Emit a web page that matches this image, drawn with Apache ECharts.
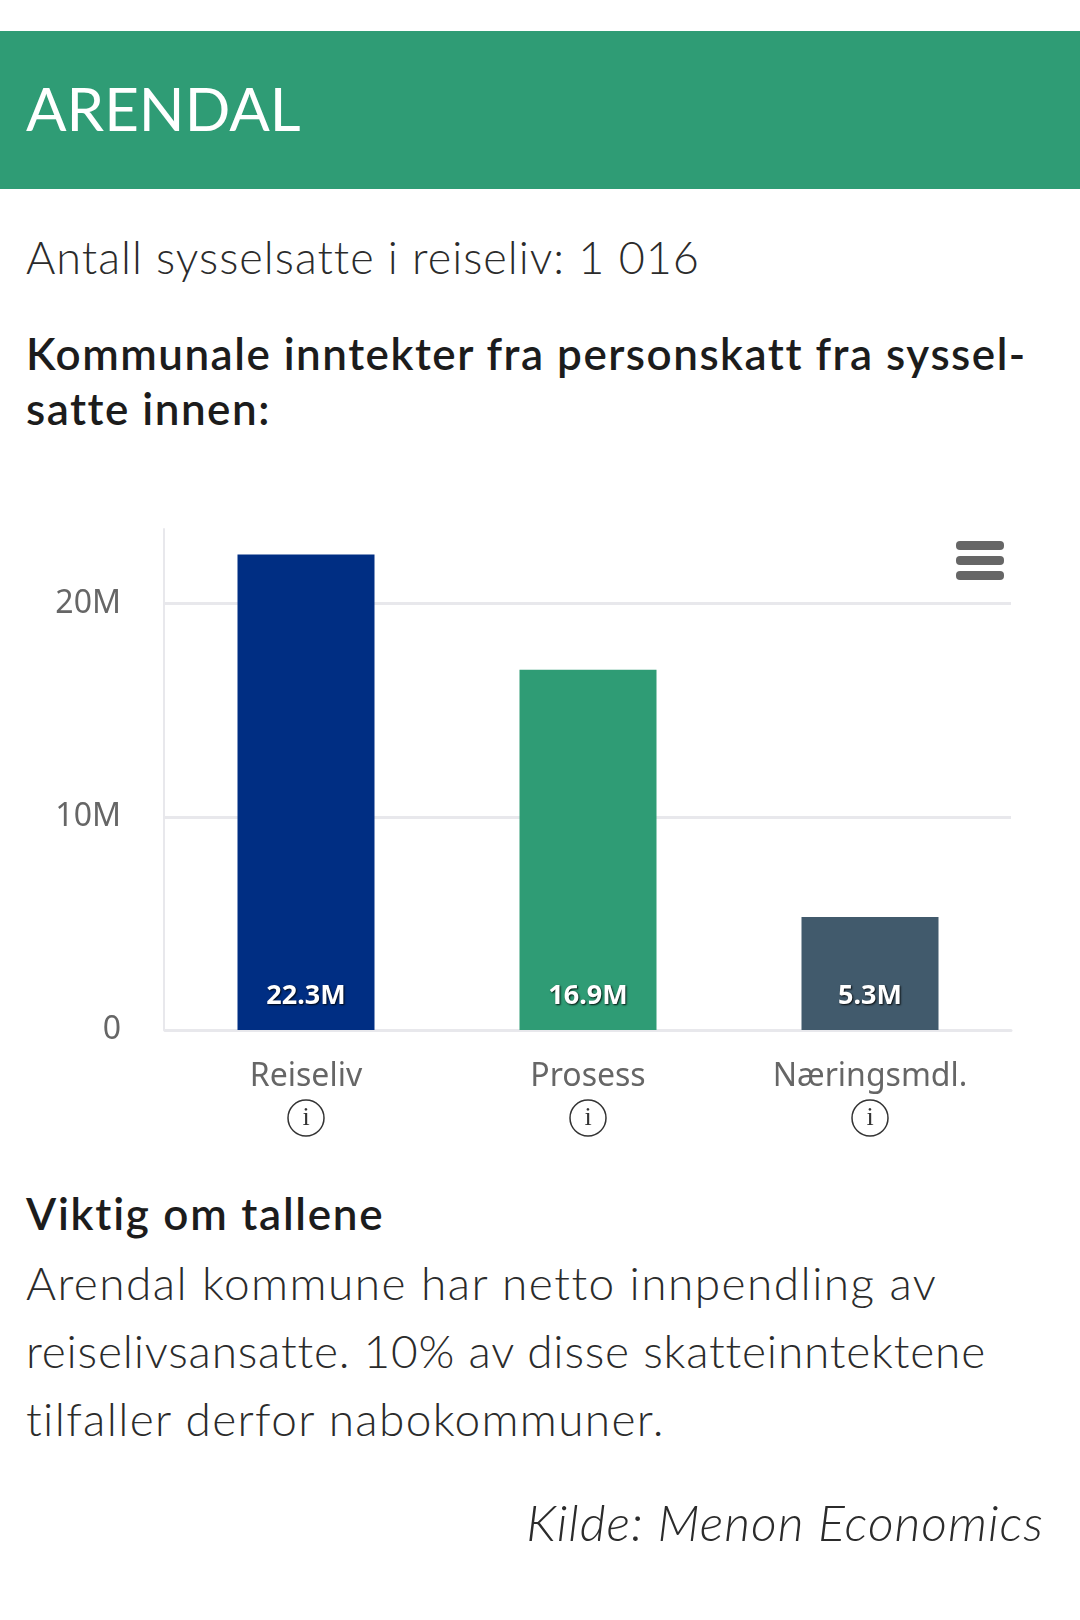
<!DOCTYPE html>
<html>
<head>
<meta charset="utf-8">
<script src="https://cdn.jsdelivr.net/npm/echarts@6/dist/echarts.min.js"></script>
<style>
html, body { margin: 0; padding: 0; background: #fff; width: 1080px; height: 1620px; overflow: hidden; }
body { position: relative; font-family: Lato, sans-serif; color: #2b2b2b; font-variant-ligatures: none; }
.t { position: absolute; left: 26px; white-space: nowrap; font-weight: 300; }
.b { font-weight: 600; color: #1c1c1c; letter-spacing: 1.5px; }
#band { position: absolute; left: 0; top: 31px; width: 1080px; height: 158px; background: #2f9c75; }
#chart { position: absolute; left: 0; top: 500px; width: 1080px; height: 660px; }
</style>
</head>
<body>
<div id="band"></div>
<div class="t" style="top:68px;font-size:60px;line-height:80px;color:#fff;font-weight:400;">ARENDAL</div>
<div class="t" style="top:229px;font-size:45px;line-height:56px;letter-spacing:1px;">Antall sysselsatte i reiseliv: 1 016</div>
<div class="t b" style="top:326px;font-size:44px;line-height:55px;">Kommunale inntekter fra personskatt fra syssel-<br>satte innen:</div>
<div id="chart"></div>
<div class="t b" style="top:1185px;font-size:44px;line-height:56px;letter-spacing:1.75px;">Viktig om tallene</div>
<div class="t" style="top:1249px;font-size:46px;line-height:68px;">
<span style="letter-spacing:1.45px;">Arendal kommune har netto innpendling av</span><br>
<span style="letter-spacing:0.8px;">reiselivsansatte. 10% av disse skatteinntektene</span><br>
<span style="letter-spacing:1.35px;">tilfaller derfor nabokommuner.</span></div>
<div class="t" style="left:auto;right:36px;top:1494px;font-size:50px;line-height:56px;font-style:italic;letter-spacing:1px;">Kilde: Menon Economics</div>
<script>
var categories = ['Reiseliv', 'Prosess', 'Næringsmdl.'];
var values = [22300000, 16900000, 5300000];
var barColors = ['#002e83', '#2f9c75', '#415a6c'];

var chart = echarts.init(document.getElementById('chart'));
function shortM(v) {
    return v === 0 ? '0' : (v / 1000000) + 'M';
}
var option = {
    animation: false,
    grid: { left: 165, top: 29, width: 846, height: 501 },
    xAxis: {
        type: 'category',
        data: categories,
        axisTick: { show: false },
        axisLine: { lineStyle: { color: '#e8e8ec', width: 3 } },
        axisLabel: {
            margin: 24,
            interval: 0,
            formatter: function(v) {
                return '{name|' + v + '}\n{icon|i}';
            },
            rich: {
                name: { fontFamily: 'Noto Sans', fontSize: 32, color: '#666', lineHeight: 46 },
                icon: {
                    fontFamily: 'Liberation Serif', fontSize: 26, color: '#333',
                    width: 36, height: 36, lineHeight: 36, align: 'center',
                    borderColor: '#333', borderWidth: 1.5, borderRadius: 20
                }
            }
        }
    },
    yAxis: {
        type: 'value',
        min: 0,
        max: 23500000,
        interval: 10000000,
        offset: 1,
        axisLine: { show: true, lineStyle: { color: '#e8e8ec', width: 2 } },
        axisTick: { show: false },
        splitLine: { showMaxLine: false, lineStyle: { color: '#e8e8ec', width: 3 } },
        axisLabel: {
            showMaxLabel: false,
            margin: 43,
            padding: [4, 0, 0, 0],
            fontFamily: 'Noto Sans',
            fontSize: 32,
            color: '#666',
            formatter: shortM
        }
    },
    series: [{
        type: 'bar',
        barWidth: 137,
        data: values.map(function(v, i) {
            return { value: v, itemStyle: { color: barColors[i] } };
        }),
        label: {
            show: true,
            position: 'insideBottom',
            distance: 20,
            fontFamily: 'Noto Sans',
            fontSize: 27,
            fontWeight: 'bold',
            color: '#fff',
            textShadowColor: 'rgba(0,0,0,0.9)',
            textShadowBlur: 2,
            textShadowOffsetX: 1,
            textShadowOffsetY: 1,
            formatter: function(p) { return shortM(p.value); }
        }
    }],
    graphic: [
        { type: 'rect', right: 76, top: 41, shape: { width: 48, height: 9, r: 4 }, style: { fill: '#666' } },
        { type: 'rect', right: 76, top: 56, shape: { width: 48, height: 9, r: 4 }, style: { fill: '#666' } },
        { type: 'rect', right: 76, top: 71, shape: { width: 48, height: 9, r: 4 }, style: { fill: '#666' } }
    ]
};
chart.setOption(option);
</script>
</body>
</html>
